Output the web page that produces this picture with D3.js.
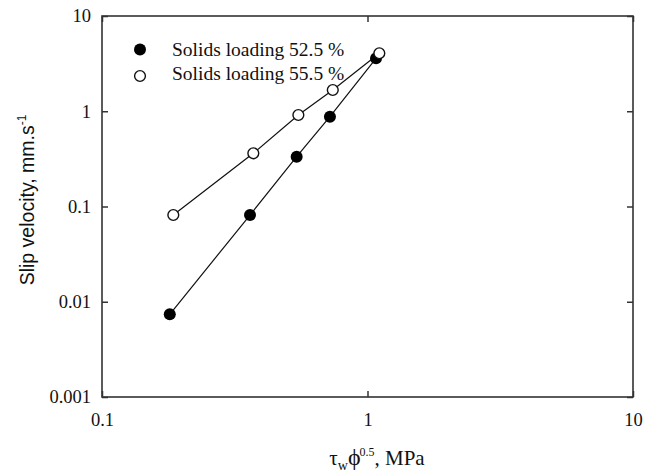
<!DOCTYPE html>
<html><head><meta charset="utf-8">
<script src="https://cdn.jsdelivr.net/npm/d3@7"></script>
<style>body{margin:0;background:#fff}svg{display:block}</style>
</head><body><svg id="c" width="646" height="473"></svg>
<script>
const seriesNames = ["Solids loading 52.5 %", "Solids loading 55.5 %"];
const xFilled = [0.180, 0.361, 0.541, 0.722, 1.077];
const yFilled = [0.00738, 0.0814, 0.333, 0.877, 3.60];
const xOpen = [0.1856, 0.3715, 0.549, 0.740, 1.108];
const yOpen = [0.0814, 0.362, 0.913, 1.672, 4.06];
const xTicks = [0.1, 1, 10];
const yTicks = [0.001, 0.01, 0.1, 1, 10];
const xTickLabels = ["0.1", "1", "10"];
const yTickLabels = ["0.001", "0.01", "0.1", "1", "10"];

const svg = d3.select("#c");
const L = 102, R = 633, T = 16, B = 397;
const x = d3.scaleLog().domain([0.1, 10]).range([L, R]);
const y = d3.scaleLog().domain([0.001, 10]).range([B, T]);
const axisColor = "#333";
const serif = "'Liberation Serif', 'Times New Roman', serif";

function styleAxis(g){
  g.select(".domain").remove();
  g.selectAll(".tick line").attr("stroke", axisColor).attr("stroke-width", 1.5);
  g.selectAll(".tick text").attr("font-family", serif).attr("font-size", 18.5).attr("fill", "#111");
}
svg.append("g").attr("transform", `translate(0,${B})`)
  .call(d3.axisBottom(x).tickValues(xTicks).tickSize(-6).tickPadding(16).tickFormat((d,i)=>xTickLabels[i]))
  .call(styleAxis);
svg.append("g").attr("transform", `translate(0,${T})`)
  .call(d3.axisTop(x).tickValues(xTicks).tickSize(-6).tickFormat(""))
  .call(styleAxis);
svg.append("g").attr("transform", `translate(${L},0)`)
  .call(d3.axisLeft(y).tickValues(yTicks).tickSize(-6).tickPadding(11).tickFormat((d,i)=>yTickLabels[i]))
  .call(styleAxis);
svg.append("g").attr("transform", `translate(${R},0)`)
  .call(d3.axisRight(y).tickValues(yTicks).tickSize(-6).tickFormat(""))
  .call(styleAxis);

svg.append("rect").attr("x", L).attr("y", T).attr("width", R-L).attr("height", B-T)
  .attr("fill", "none").attr("stroke", axisColor).attr("stroke-width", 1.6);

const line = d3.line().x(d=>x(d[0])).y(d=>y(d[1]));
const filled = xFilled.map((v,i)=>[v, yFilled[i]]);
const open = xOpen.map((v,i)=>[v, yOpen[i]]);

svg.append("path").attr("d", line(filled)).attr("fill","none").attr("stroke","#111").attr("stroke-width",1.2);
svg.append("path").attr("d", line(open)).attr("fill","none").attr("stroke","#111").attr("stroke-width",1.2);

svg.selectAll(".pf").data(filled).enter().append("circle")
  .attr("cx", d=>x(d[0])).attr("cy", d=>y(d[1])).attr("r", 6).attr("fill","#000");
svg.selectAll(".po").data(open).enter().append("circle")
  .attr("cx", d=>x(d[0])).attr("cy", d=>y(d[1])).attr("r", 5.4).attr("fill","#fff").attr("stroke","#111").attr("stroke-width",1.4);

const leg = svg.append("g");
leg.append("circle").attr("cx", 140).attr("cy", 49.5).attr("r", 6).attr("fill", "#000");
leg.append("circle").attr("cx", 140).attr("cy", 76).attr("r", 5.4).attr("fill", "#fff").attr("stroke","#111").attr("stroke-width",1.4);
leg.append("text").attr("x", 172).attr("y", 56).attr("font-family", serif).attr("font-size", 19.5).attr("fill","#111").text(seriesNames[0]);
leg.append("text").attr("x", 172).attr("y", 80).attr("font-family", serif).attr("font-size", 19.5).attr("fill","#111").text(seriesNames[1]);

const yt = svg.append("text").attr("transform", "translate(34,200) rotate(-90)")
  .attr("text-anchor","middle").attr("font-family","'Liberation Sans', Arial, sans-serif").attr("font-size", 19.5).attr("fill","#111");
yt.append("tspan").text("Slip velocity, mm.s");
yt.append("tspan").attr("dy", -8).attr("font-size", 12).text("-1");

const xt = svg.append("text").attr("x", 377).attr("y", 465).attr("text-anchor","middle")
  .attr("font-family", serif).attr("font-size", 21).attr("fill","#111");
xt.append("tspan").text("τ");
xt.append("tspan").attr("dy", 5).attr("font-size", 14).text("w");
xt.append("tspan").attr("dy", -5).attr("font-size", 24).text("ϕ");
xt.append("tspan").attr("dy", -9).attr("dx", -1).attr("font-size", 12).text("0.5");
xt.append("tspan").attr("dy", 9).text(", MPa");
</script></body></html>
